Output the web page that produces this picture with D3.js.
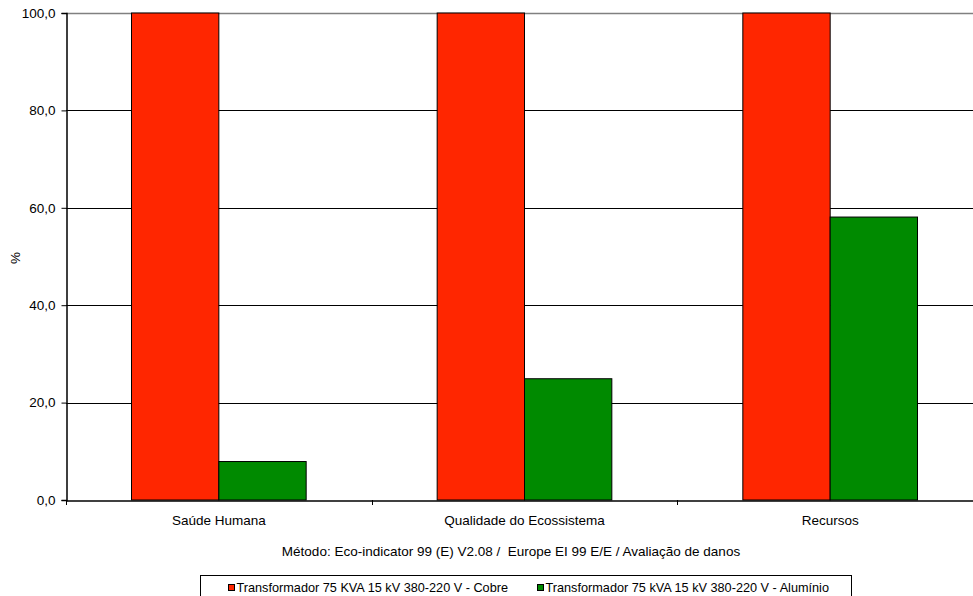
<!DOCTYPE html>
<html>
<head>
<meta charset="utf-8">
<script src="https://cdn.jsdelivr.net/npm/d3@7"></script>
<style>
  html, body { margin: 0; padding: 0; background: #fff; }
  svg { display: block; font-family: "Liberation Sans", Arial, sans-serif; }
</style>
</head>
<body>
<svg id="chart" width="973" height="596"></svg>
<script>
// Damage categories (Eco-indicator 99) and relative scores in %
const categories = ["Saúde Humana", "Qualidade do Ecossistema", "Recursos"];
const seriesNames = [
  "Transformador 75 KVA 15 kV 380-220 V - Cobre",
  "Transformador 75 kVA 15 kV 380-220 V - Alumínio"
];
const cobre = [100, 100, 100];
const aluminio = [7.9, 24.9, 58.1];
const yTicks = [0, 20, 40, 60, 80, 100];
const seriesColors = ["#ff2600", "#008a00"];

const svg = d3.select("#chart");
const fontSize = 13.5;
const legendFontSize = 12.7;

const plot = { left: 66, top: 13, bottom: 500, right: 983 };

const x = d3.scaleBand()
  .domain(categories)
  .range([plot.left, plot.right])
  .paddingInner(0)
  .paddingOuter(0);

const barW = x.bandwidth() / 3.5;   // two bars + 150% gap
const gapOff = (x.bandwidth() - 2 * barW) / 2;

const y = d3.scaleLinear().domain([0, 100]).range([plot.bottom, plot.top]);

const fmt = v => d3.format(".1f")(v).replace(".", ",");

// horizontal gridlines
svg.append("g")
  .selectAll("line")
  .data(yTicks.filter(t => t > 0))
  .join("line")
  .attr("x1", plot.left)
  .attr("x2", 973)
  .attr("y1", d => Math.round(y(d)) + 0.5)
  .attr("y2", d => Math.round(y(d)) + 0.5)
  .attr("stroke", d => d === 100 ? "#808080" : "#000")
  .attr("stroke-width", d => d === 100 ? 1.5 : 1);

// bars
const rows = categories.map((c, i) => [
  { cat: c, s: 0, v: cobre[i] },
  { cat: c, s: 1, v: aluminio[i] }
]).flat();

svg.append("g")
  .selectAll("rect")
  .data(rows)
  .join("rect")
  .attr("x", d => x(d.cat) + gapOff + d.s * barW)
  .attr("y", d => y(d.v))
  .attr("width", barW)
  .attr("height", d => y(0) - y(d.v))
  .attr("fill", d => seriesColors[d.s])
  .attr("stroke", "#000")
  .attr("stroke-width", 1);

// y axis
const yAxis = d3.axisLeft(y)
  .tickValues(yTicks)
  .tickFormat(fmt)
  .tickSize(5)
  .tickPadding(6);

const gy = svg.append("g")
  .attr("transform", `translate(${plot.left + 0.5},0)`)
  .call(yAxis);
gy.select(".domain").attr("stroke", "#000").attr("stroke-width", 1.5);
gy.selectAll(".tick line").attr("stroke", "#000");
gy.selectAll(".tick text")
  .attr("font-size", fontSize)
  .attr("font-family", "Liberation Sans, Arial, sans-serif")
  .attr("fill", "#000");

// x axis
const xAxis = d3.axisBottom(x).tickSize(0).tickPadding(0);
const gx = svg.append("g")
  .attr("transform", `translate(0,${plot.bottom + 0.5})`)
  .call(xAxis);
gx.select(".domain").attr("stroke", "#000").attr("stroke-width", 1.5);
gx.selectAll(".tick text")
  .attr("font-size", fontSize)
  .attr("font-family", "Liberation Sans, Arial, sans-serif")
  .attr("fill", "#000")
  .attr("dy", null)
  .attr("y", 24);

// category boundary tick marks
svg.append("g")
  .selectAll("line")
  .data(categories)
  .join("line")
  .attr("x1", d => Math.round(x(d)) + 0.5)
  .attr("x2", d => Math.round(x(d)) + 0.5)
  .attr("y1", plot.bottom)
  .attr("y2", plot.bottom + 5)
  .attr("stroke", "#000");

// axis titles
svg.append("text")
  .attr("x", 511)
  .attr("y", 556)
  .attr("text-anchor", "middle")
  .attr("font-size", fontSize)
  .text("Método: Eco-indicator 99 (E) V2.08 /  Europe EI 99 E/E / Avaliação de danos")
  .style("white-space", "pre");

svg.append("text")
  .attr("transform", "translate(20,258) rotate(-90)")
  .attr("text-anchor", "middle")
  .attr("font-size", fontSize)
  .text("%");

// legend
const leg = svg.append("g");
leg.append("rect")
  .attr("x", 200.5)
  .attr("y", 575.5)
  .attr("width", 651)
  .attr("height", 40)
  .attr("fill", "#fff")
  .attr("stroke", "#000")
  .attr("stroke-width", 1);

const legX = [228, 537];
seriesNames.forEach((name, i) => {
  leg.append("rect")
    .attr("x", legX[i] + 0.5)
    .attr("y", 584.5)
    .attr("width", 6)
    .attr("height", 6)
    .attr("fill", seriesColors[i])
    .attr("stroke", "#000");
  leg.append("text")
    .attr("x", legX[i] + 8.5)
    .attr("y", 592)
    .attr("font-size", legendFontSize)
    .text(name);
});
</script>
</body>
</html>
